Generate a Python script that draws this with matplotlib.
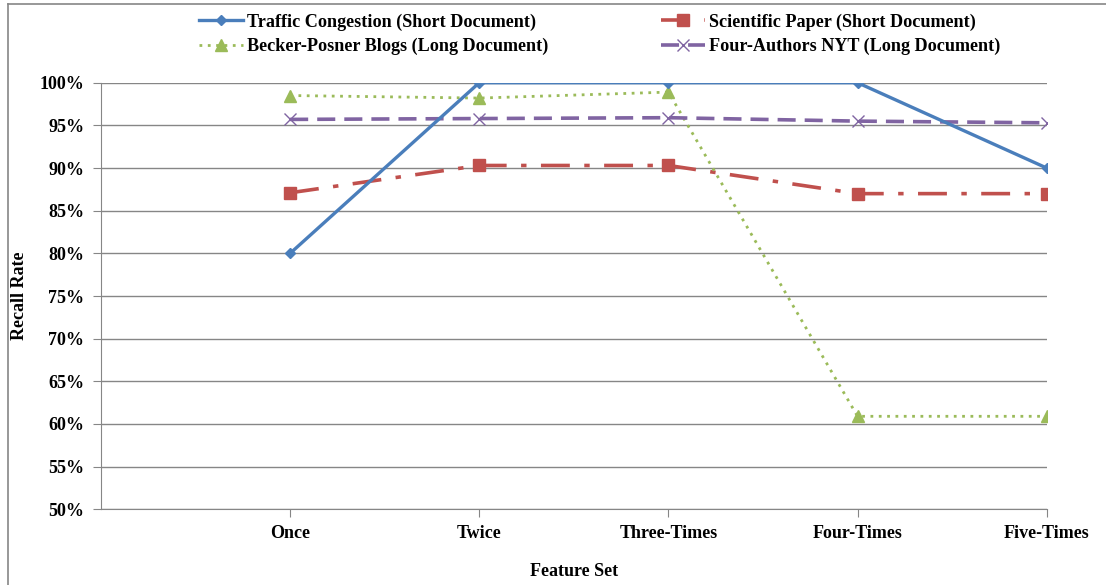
import matplotlib.pyplot as plt
from matplotlib.lines import Line2D
from matplotlib.ticker import FuncFormatter

plt.rcParams['font.family'] = ['Liberation Serif', 'DejaVu Serif']
plt.rcParams['font.weight'] = 'bold'

# data
feature_sets = ['Once', 'Twice', 'Three-Times', 'Four-Times', 'Five-Times']
traffic = [80.0, 100.0, 100.0, 100.0, 90.0]
scientific = [87.1, 90.3, 90.3, 87.0, 87.0]
becker = [98.5, 98.2, 98.9, 60.9, 60.9]
nyt = [95.7, 95.8, 95.9, 95.5, 95.3]

fig = plt.figure(figsize=(11.06, 5.85), dpi=100)
ax = fig.add_axes([0.0913, 0.1294, 0.8551, 0.7292])

x = list(range(len(feature_sets)))
l_sci, = ax.plot(x, scientific, color='#C0504D', lw=2.6, marker='s', ms=8,
                 dashes=(8, 4, 1.5, 4), label='Scientific Paper (Short Document)')
l_bec, = ax.plot(x, becker, color='#9BBB59', lw=2, marker='^', ms=8,
                 dashes=(1, 2), label='Becker-Posner Blogs (Long Document)')
l_nyt, = ax.plot(x, nyt, color='#8064A2', lw=2.6, marker='x', ms=8, mew=1,
                 dashes=(5, 2.5), label='Four-Authors NYT (Long Document)')
l_tra, = ax.plot(x, traffic, color='#4A7EBB', lw=2.4, marker='D', ms=5.5,
                 label='Traffic Congestion (Short Document)')

ax.set_xlim(-1, 4)
ax.set_ylim(50, 100)
ax.set_xticks(x)
ax.set_xticklabels(feature_sets, fontsize=13, fontweight='bold')
ax.set_yticks(range(50, 101, 5))
ax.yaxis.set_major_formatter(FuncFormatter(lambda v, p: f'{v:.0f}%'))
for lab in ax.get_yticklabels():
    lab.set_fontsize(13)
    lab.set_fontweight('bold')
ax.tick_params(axis='x', length=6, color='#868686', pad=5, direction='out')
ax.tick_params(axis='y', length=6, color='#868686', pad=6, direction='out')
ax.yaxis.grid(True, color='#868686', lw=1)
ax.set_axisbelow(True)
for s in ['top', 'right']:
    ax.spines[s].set_visible(False)
for s in ['left', 'bottom']:
    ax.spines[s].set_color('#868686')

ax.set_xlabel('Feature Set', fontsize=13, fontweight='bold')
ax.xaxis.set_label_coords(0.5, -0.125)
ax.set_ylabel('Recall Rate', fontsize=13, fontweight='bold')
ax.yaxis.set_label_coords(-0.077, 0.5)

handles = [l_tra, l_bec, l_sci, l_nyt]
fig.legend(handles=handles, labels=[h.get_label() for h in handles],
           loc='upper left', bbox_to_anchor=(0.165, 1.005), ncol=2,
           frameon=False, handlelength=2.4,
           columnspacing=6.2, handletextpad=0.25, labelspacing=0.4,
           prop={'weight': 'bold', 'size': 13.1})

# outer chart border (top and left edges visible)
fig.add_artist(Line2D([0.0072, 1.0], [0.9932, 0.9932], color='#868686', lw=1.2))
fig.add_artist(Line2D([0.0072, 0.0072], [0.0, 0.9932], color='#868686', lw=1.2))

fig.savefig('out.png', dpi=100)
